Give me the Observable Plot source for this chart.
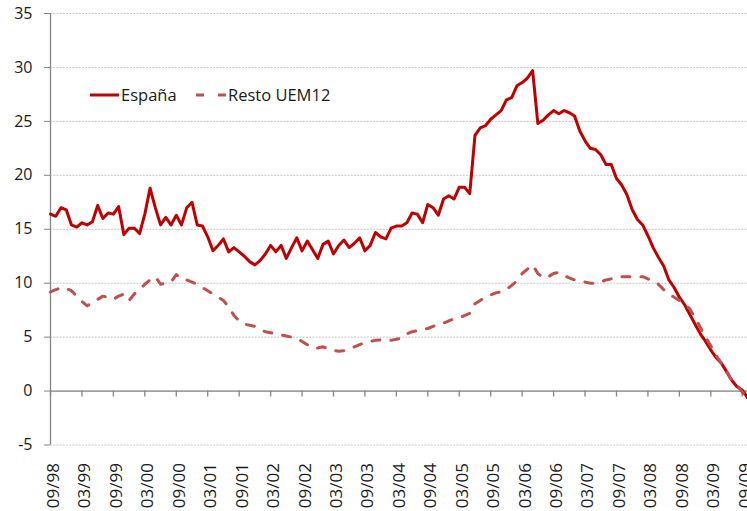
<!DOCTYPE html>
<html>
<head>
<meta charset="utf-8">
<script src="https://cdn.jsdelivr.net/npm/d3@7"></script>
<script src="https://cdn.jsdelivr.net/npm/@observablehq/plot@0.6"></script>
<style>
  body { margin: 0; background: #fff; }
  #wrap { position: relative; width: 747px; height: 511px; overflow: hidden; font-family: "Open Sans", sans-serif; }
  #wrap svg { display: block; }
  #legend { position: absolute; left: 0; top: 0; pointer-events: none; }
</style>
</head>
<body>
<div id="wrap"></div>
<script>
// ---- data ----
const tickLabels = ["09/98","03/99","09/99","03/00","09/00","03/01","09/01","03/02","09/02","03/03","09/03","03/04",
                    "09/04","03/05","09/05","03/06","09/06","03/07","09/07","03/08","09/08","03/09","09/09"];
const seriesNames = ["España", "Resto UEM12"];
const yTicks = [-5, 0, 5, 10, 15, 20, 25, 30, 35];

// monthly values, 09/98 .. 10/09
const espana = [
  16.4,16.2,17.0,16.8,15.4,15.2,15.6,15.4,15.7,17.2,
  16.0,16.5,16.4,17.1,14.5,15.1,15.1,14.6,16.4,18.8,
  17.0,15.4,16.1,15.4,16.3,15.4,17.0,17.5,15.4,15.3,
  14.3,13.0,13.5,14.1,12.9,13.3,12.9,12.5,12.0,11.7,
  12.1,12.7,13.5,12.9,13.5,12.3,13.3,14.2,13.0,13.9,
  13.1,12.3,13.6,13.9,12.7,13.5,14.0,13.3,13.7,14.2,
  13.0,13.5,14.7,14.3,14.1,15.1,15.3,15.3,15.6,16.5,
  16.4,15.6,17.3,17.0,16.3,17.8,18.1,17.8,18.9,18.9,
  18.3,23.7,24.4,24.6,25.2,25.6,26.0,27.0,27.2,28.3,
  28.6,29.0,29.7,24.8,25.1,25.6,26.0,25.7,26.0,25.8,
  25.5,24.1,23.2,22.5,22.4,21.9,21.0,21.0,19.7,19.1,
  18.2,16.8,15.9,15.4,14.4,13.3,12.4,11.6,10.3,9.6,
  8.7,8.0,7.1,6.2,5.3,4.6,3.8,3.1,2.6,1.8,
  1.0,0.4,0.1,-0.6
];
const resto = [
  9.2,9.4,9.6,9.5,9.3,8.8,8.3,7.9,8.2,8.5,
  8.8,8.7,8.5,8.8,9.0,8.4,9.0,9.4,9.9,10.3,
  10.6,9.9,10.0,10.1,10.8,10.4,10.3,10.1,9.9,9.6,
  9.3,9.0,8.7,8.4,7.8,7.0,6.5,6.2,6.1,6.0,
  5.7,5.5,5.4,5.3,5.2,5.1,5.0,4.9,4.6,4.3,
  4.0,4.0,4.1,3.9,3.75,3.7,3.75,3.9,4.1,4.3,
  4.5,4.6,4.7,4.75,4.7,4.7,4.8,4.9,5.3,5.5,
  5.6,5.7,5.8,6.0,6.2,6.3,6.5,6.7,6.8,7.0,
  7.2,8.1,8.4,8.7,8.9,9.1,9.2,9.4,9.8,10.2,
  10.9,11.3,11.7,10.9,10.5,10.6,10.9,11.0,10.7,10.5,
  10.3,10.2,10.1,10.0,10.0,10.1,10.3,10.4,10.5,10.6,
  10.6,10.6,10.6,10.6,10.4,10.2,9.9,9.4,9.0,8.7,
  8.4,8.1,7.6,6.8,5.9,5.0,4.2,3.3,2.6,1.8,
  1.0,0.6,-0.1,-0.8
];

// ---- styling ----
const colEsp = "#C00000";
const colRes = "#C0504D";
const axisCol = "#868686";
const gridCol = "#c4c4c4";
const textCol = "#1a1a1a";

const tickIdx = tickLabels.map((_, k) => k * 6);
const nMonths = espana.length - 1;

const chart = Plot.plot({
  width: 747,
  height: 511,
  marginLeft: 50,
  marginRight: 0,
  marginTop: 13,
  marginBottom: 66.5,
  style: { fontFamily: "'Open Sans', sans-serif", fontSize: "16px", color: textCol, background: "#fff" },
  x: { type: "linear", domain: [0, nMonths] },
  y: { domain: [-5, 35] },
  marks: [
    Plot.gridY(yTicks, { stroke: gridCol, strokeOpacity: 1, strokeWidth: 1, strokeDasharray: "2,1.2" }),
    Plot.ruleY([0], { stroke: axisCol, strokeWidth: 1.3 }),
    Plot.ruleX([0], { stroke: axisCol, strokeWidth: 1.3 }),
    Plot.ruleX(tickIdx, { x: d => d, y1: 0, y2: -0.55, stroke: axisCol, strokeWidth: 1.3 }),
    Plot.axisY({ ticks: yTicks, tickFormat: d => String(d), tickSize: 6, tickPadding: 12, stroke: axisCol, label: null, fill: textCol }),
    Plot.axisX({ ticks: tickIdx, tickFormat: d => tickLabels[d / 6], tickRotate: -90, tickSize: 0, tickPadding: 18, dx: 3, label: null, fill: textCol, fontSize: 17 }),
    Plot.line(espana, { x: (d, i) => i, y: d => d, stroke: colEsp, strokeWidth: 3, strokeLinejoin: "round" }),
    Plot.line(resto, { x: (d, i) => i, y: d => d, stroke: colRes, strokeWidth: 3, strokeDasharray: "8,11", strokeLinecap: "round" })
  ]
});

const wrap = document.getElementById("wrap");
wrap.appendChild(chart);

// legend overlay (inside plot area, top-left)
const ns = "http://www.w3.org/2000/svg";
const leg = document.createElementNS(ns, "svg");
leg.setAttribute("id", "legend");
leg.setAttribute("width", 747);
leg.setAttribute("height", 511);
const items = [
  { name: seriesNames[0], color: colEsp, x1: 90, x2: 119, tx: 121, dash: null },
  { name: seriesNames[1], color: colRes, x1: 196, x2: 226, tx: 228, dash: "8,14" }
];
for (const it of items) {
  const ln = document.createElementNS(ns, "line");
  ln.setAttribute("x1", it.x1); ln.setAttribute("x2", it.x2);
  ln.setAttribute("y1", 95); ln.setAttribute("y2", 95);
  ln.setAttribute("stroke", it.color); ln.setAttribute("stroke-width", 3);
  if (it.dash) { ln.setAttribute("stroke-dasharray", it.dash); }
  leg.appendChild(ln);
  const t = document.createElementNS(ns, "text");
  t.setAttribute("x", it.tx); t.setAttribute("y", 100.5);
  t.setAttribute("fill", textCol);
  t.setAttribute("font-family", "'Open Sans', sans-serif");
  t.setAttribute("font-size", "16.5px");
  t.textContent = it.name;
  leg.appendChild(t);
}
wrap.appendChild(leg);
</script>
</body>
</html>
